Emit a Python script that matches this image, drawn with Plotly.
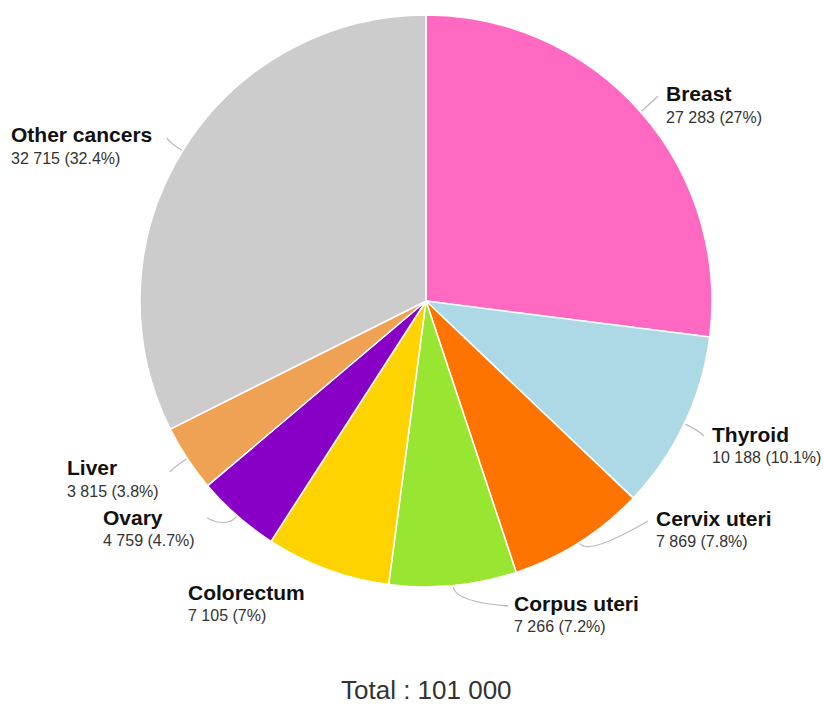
import math
import plotly.graph_objects as go

# Cancer incidence by site
sites = ["Breast", "Thyroid", "Cervix uteri", "Corpus uteri",
         "Colorectum", "Ovary", "Liver", "Other cancers"]
cases = [27283, 10188, 7869, 7266, 7105, 4759, 3815, 32715]
value_labels = ["27 283 (27%)", "10 188 (10.1%)", "7 869 (7.8%)", "7 266 (7.2%)",
                "7 105 (7%)", "4 759 (4.7%)", "3 815 (3.8%)", "32 715 (32.4%)"]
total_label = "Total : 101 000"

colors = ["#FF69C2", "#ADD8E6", "#FF7400", "#99E632",
          "#FFD300", "#8800C6", "#F0A254", "#CCCCCC"]

# Canvas and pie geometry (pixels)
W, H = 824, 705
CX, CY, R = 426, 301, 286

# Label anchors (left edge x, name line y) and leader-line end points
label_pos = [(664, 94), (710, 434), (654, 518), (512, 603),
             (186, 592), (101, 517), (65, 468), (9, 135)]
leader_end = [(658, 96), (704, 436), (648, 521), (508, 606),
              None, (207, 518), (170, 472), (167, 138)]


def px(x):
    return x / W


def py(y):
    return 1 - y / H


fig = go.Figure(go.Pie(
    labels=sites,
    values=cases,
    sort=False,
    direction="clockwise",
    rotation=0,
    marker=dict(colors=colors, line=dict(color="white", width=1.5)),
    textinfo="none",
    hoverinfo="label+value+percent",
    showlegend=False,
    domain=dict(x=[px(CX - R), px(CX + R)], y=[py(CY + R), py(CY - R)]),
))

annotations = []
shapes = []
total = sum(cases)
cum = 0.0
for i, (name, v) in enumerate(zip(sites, cases)):
    mid = (cum + v / 2) / total * 2 * math.pi
    cum += v
    dx, dy = math.sin(mid), -math.cos(mid)
    lx, ly = label_pos[i]
    annotations.append(dict(
        x=px(lx), y=py(ly), xref="paper", yref="paper",
        xanchor="left", yanchor="middle", showarrow=False,
        text=f"<b>{name}</b>",
        font=dict(family="Liberation Sans, Arial, sans-serif", size=21, color="#111111"),
    ))
    annotations.append(dict(
        x=px(lx), y=py(ly + 23), xref="paper", yref="paper",
        xanchor="left", yanchor="middle", showarrow=False,
        text=value_labels[i],
        font=dict(family="Liberation Sans, Arial, sans-serif", size=16, color="#333333"),
    ))
    end = leader_end[i]
    if end is not None:
        x0, y0 = CX + (R + 1) * dx, CY + (R + 1) * dy
        x1, y1 = CX + (R + 16) * dx, CY + (R + 16) * dy
        x2, y2 = end
        path = (f"M {px(x0)},{py(y0)} Q {px(x1)},{py(y1)} {px(x2)},{py(y2)}")
        shapes.append(dict(type="path", path=path, xref="paper", yref="paper",
                           line=dict(color="#BBBBBB", width=1.3)))

annotations.append(dict(
    x=px(426), y=py(690), xref="paper", yref="paper",
    xanchor="center", yanchor="middle", showarrow=False,
    text=total_label,
    font=dict(family="Liberation Sans, Arial, sans-serif", size=26, color="#333333"),
))

fig.update_layout(
    width=W, height=H,
    margin=dict(l=0, r=0, t=0, b=0),
    paper_bgcolor="white", plot_bgcolor="white",
    annotations=annotations,
    shapes=shapes,
)

fig.write_html("out.html")
